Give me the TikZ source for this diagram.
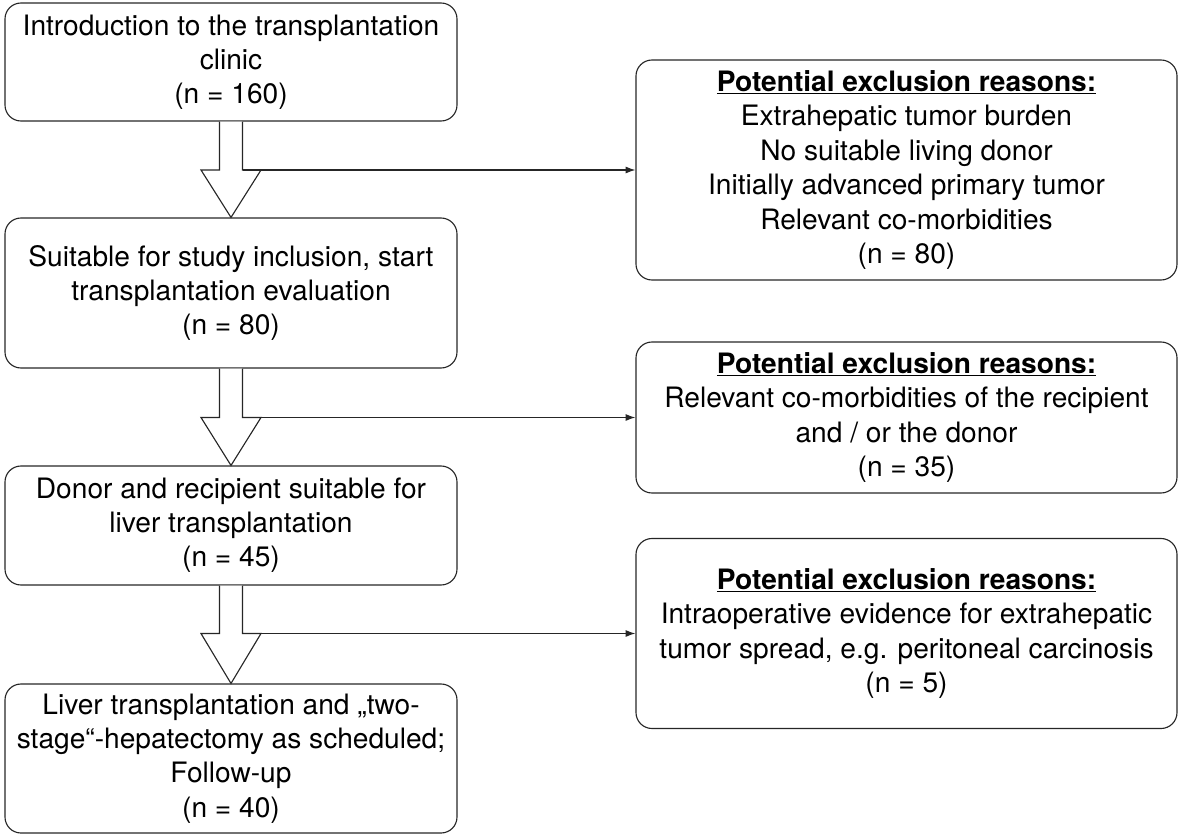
\documentclass[tikz,border=0pt]{standalone}
\usepackage{fontspec}
\setmainfont{TeX Gyre Heros}
\usetikzlibrary{calc,arrows.meta}

\begin{document}
\begin{tikzpicture}[
    stage/.style={draw=black!85, line width=0.8pt, rounded corners=0.4cm,
      minimum width=11.3cm, align=center, font=\fontsize{20}{24.3}\selectfont},
    excl/.style={draw=black!85, line width=0.8pt, rounded corners=0.4cm,
      minimum width=13.525cm, align=center, font=\fontsize{20}{24.5}\selectfont},
    fat/.style={draw=black!85, line width=0.8pt, fill=white},
    thin/.style={draw=black!85, line width=0.8pt, -{Latex[length=7pt,width=5pt]}}
  ]
    \useasboundingbox (0,0) rectangle (29.525,-20.925);

    \path (5.775,-1.55)   node [stage,minimum height=2.95cm] (st1)
      {Introduction to the transplantation\\clinic\\(n = 160)};
    \path (5.775,-7.325)  node [stage,minimum height=3.75cm] (st2)
      {Suitable for study inclusion, start\\transplantation evaluation\\(n = 80)};
    \path (5.775,-13.1375) node [stage,minimum height=2.975cm] (st3)
      {Donor and recipient suitable for\\liver transplantation\\(n = 45)};
    \path (5.775,-18.9625) node [stage,minimum height=3.725cm] (st4)
      {Liver transplantation and „two-\\stage“-hepatectomy as scheduled;\\Follow-up\\(n = 40)};

    \path (22.6625,-4.25)    node [excl,minimum height=5.5cm] (ex1)
      {\underline{\textbf{Potential exclusion reasons:}}\\Extrahepatic tumor burden\\No suitable living donor\\Initially advanced primary tumor\\Relevant co-morbidities\\(n = 80)};
    \path (22.6625,-10.4375) node [excl,minimum height=3.775cm] (ex2)
      {\underline{\textbf{Potential exclusion reasons:}}\\Relevant co-morbidities of the recipient\\and / or the donor\\(n = 35)};
    \path (22.6625,-15.8375) node [excl,minimum height=4.75cm] (ex3)
      {\underline{\textbf{Potential exclusion reasons:}}\\Intraoperative evidence for extrahepatic\\tumor spread, e.g. peritoneal carcinosis\\(n = 5)};

    % block arrows down, thin arrows to the exclusions
    \foreach \a/\b/\r in {st1/st2/ex1, st2/st3/ex2, st3/st4/ex3} {
      \coordinate (\a m) at (\a.south |- \r.west);
      \draw [fat] ($(\a.south)+(-0.2875,0)$) -- ($(\a m)+(-0.2875,0)$)
        -- ($(\a m)+(-0.75,0)$) -- (\b.north) -- ($(\a m)+(0.75,0)$)
        -- ($(\a m)+(0.2875,0)$) -- ($(\a.south)+(0.2875,0)$);
      \draw [thin] ($(\a m)+(0.2875,0)$) -- (\r.west);
    }
\end{tikzpicture}
\end{document}
